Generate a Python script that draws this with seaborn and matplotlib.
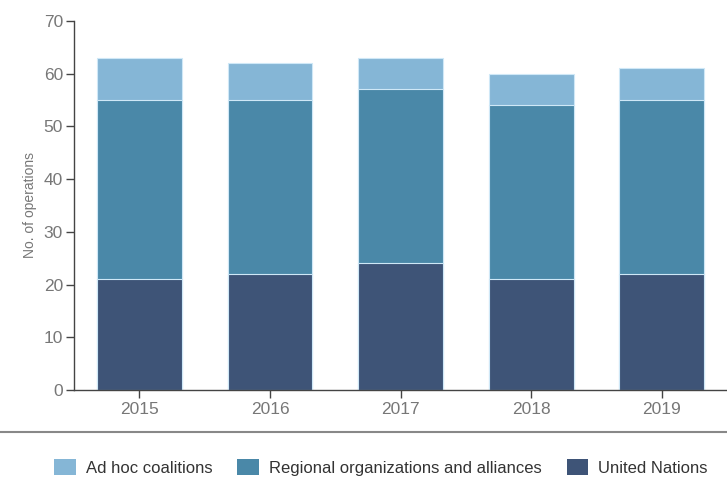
import numpy as np
import pandas as pd
import matplotlib.pyplot as plt
import seaborn as sns
from matplotlib.patches import Patch
from matplotlib.lines import Line2D

years = ['2015', '2016', '2017', '2018', '2019']
united_nations = [21, 22, 24, 21, 22]
regional = [34, 33, 33, 33, 33]
ad_hoc = [8, 7, 6, 6, 6]

series_names = ['Ad hoc coalitions', 'Regional organizations and alliances', 'United Nations']
colors = ['#85b6d6', '#4a88a8', '#3e5477']

sns.set_style('white')
plt.rcParams['font.family'] = ['Liberation Sans', 'DejaVu Sans']

df = pd.DataFrame({'year': years, 'un': united_nations, 'reg': regional, 'adhoc': ad_hoc})
df['un_reg'] = df['un'] + df['reg']
df['total'] = df['un_reg'] + df['adhoc']

fig = plt.figure(figsize=(7.27, 4.8), dpi=100)
ax = fig.add_axes([0.102, 0.1875, 0.898, 0.769])

# stacked bars drawn as layered cumulative totals
for col, c in zip(['total', 'un_reg', 'un'], colors):
    sns.barplot(data=df, x='year', y=col, color=c, width=0.65, ax=ax,
                edgecolor='#cfe8f7', linewidth=0.8, saturation=1)

ax.set_ylim(0, 70)
ax.set_xlim(-0.5, 4.5)
ax.set_yticks(range(0, 71, 10))
ax.set_xlabel('')
ax.set_ylabel('No. of operations', color='#777777', fontsize=10, labelpad=5)

sns.despine(ax=ax)
for s in ['left', 'bottom']:
    ax.spines[s].set_color('#444444')
    ax.spines[s].set_linewidth(1.0)
ax.tick_params(axis='both', which='both', direction='out', length=6, width=1,
               color='#444444', labelcolor='#777777', labelsize=12.5, left=True, bottom=True)
ax.tick_params(axis='y', pad=2)
ax.tick_params(axis='x', pad=3)

# separator line above legend
fig.add_artist(Line2D([0, 1], [0.1, 0.1], color='#888888', lw=1.5, transform=fig.transFigure))

handles = [Patch(facecolor=c, edgecolor='none') for c in colors]
fig.legend(handles, series_names, loc='lower center', bbox_to_anchor=(0.524, -0.022), ncol=3,
           frameon=False, fontsize=12, handlelength=1.3, handleheight=1.1,
           columnspacing=1.5, handletextpad=0.6, labelcolor='#333333')

fig.savefig('out.png', dpi=100)
